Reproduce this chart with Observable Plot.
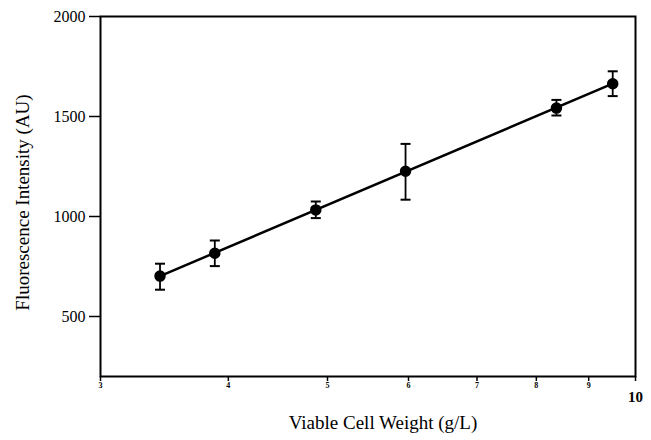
<!DOCTYPE html>
<html>
<head>
<meta charset="utf-8">
<script src="https://cdn.jsdelivr.net/npm/d3@7"></script>
<script src="https://cdn.jsdelivr.net/npm/@observablehq/plot@0.6"></script>
<style>
  html, body { margin: 0; padding: 0; background: #fff; }
  svg { display: block; }
</style>
</head>
<body>
<div id="chart"></div>
<script>
// Data
const cellWeight = [3.43, 3.88, 4.87, 5.96, 8.37, 9.50];          // g/L
const fluorescence = [702, 816, 1033, 1226, 1542, 1664];          // AU
const errorLow = [634, 752, 992, 1084, 1505, 1602];
const errorHigh = [764, 880, 1075, 1363, 1583, 1726];
const fitX = [3.43, 9.50];
const fitY = [702, 1664];
const yTicks = [500, 1000, 1500, 2000];
const xTicksMinor = [3, 4, 5, 6, 7, 8, 9];
const xTicksMajor = [10];
const xTitle = "Viable Cell Weight (g/L)";
const yTitle = "Fluorescence Intensity (AU)";

const points = cellWeight.map((x, i) => ({x, y: fluorescence[i], lo: errorLow[i], hi: errorHigh[i]}));
const fit = fitX.map((x, i) => ({x, y: fitY[i]}));

// horizontal cap symbol for error bars
const capSymbol = {
  draw(ctx, size) {
    const w = Math.sqrt(size / Math.PI);
    ctx.moveTo(-w, 0);
    ctx.lineTo(w, 0);
  }
};

const chart = Plot.plot({
  width: 651,
  height: 440,
  marginLeft: 100,
  marginRight: 16,
  marginTop: 16,
  marginBottom: 64,
  style: {fontFamily: "'Liberation Serif', 'Times New Roman', serif", color: "#000", background: "#fff"},
  x: {type: "log", domain: [3, 10]},
  y: {domain: [200, 2000]},
  marks: [
    Plot.axisY({ticks: yTicks, tickSize: 11, tickPadding: 4, fontSize: 16, strokeWidth: 1.5, tickFormat: d => String(d), label: null}),
    Plot.axisX({ticks: xTicksMinor, tickSize: 5, tickPadding: 1, fontSize: 8, fontWeight: "bold", strokeWidth: 1.5, tickFormat: d => String(d), label: null}),
    Plot.axisX({ticks: xTicksMajor, tickSize: 5, tickPadding: 10, fontSize: 15, fontWeight: "bold", strokeWidth: 1.5, tickFormat: d => String(d), label: null}),
    Plot.frame({stroke: "#000", strokeWidth: 2}),
    Plot.line(fit, {x: "x", y: "y", stroke: "#000", strokeWidth: 2.5}),
    Plot.ruleX(points, {x: "x", y1: "lo", y2: "hi", stroke: "#000", strokeWidth: 1.8}),
    Plot.dot(points, {x: "x", y: "lo", symbol: capSymbol, r: 5, stroke: "#000", strokeWidth: 2, fill: "none"}),
    Plot.dot(points, {x: "x", y: "hi", symbol: capSymbol, r: 5, stroke: "#000", strokeWidth: 2, fill: "none"}),
    Plot.dot(points, {x: "x", y: "y", r: 5, fill: "#000", stroke: "#000"}),
    Plot.text([xTitle], {frameAnchor: "bottom", textAnchor: "middle", dy: 52, dx: 15, text: d => d, fontSize: 19}),
    Plot.text([yTitle], {frameAnchor: "left", textAnchor: "middle", dx: -78, dy: 6, rotate: -90, text: d => d, fontSize: 19})
  ]
});
document.getElementById("chart").appendChild(chart);
</script>
</body>
</html>
